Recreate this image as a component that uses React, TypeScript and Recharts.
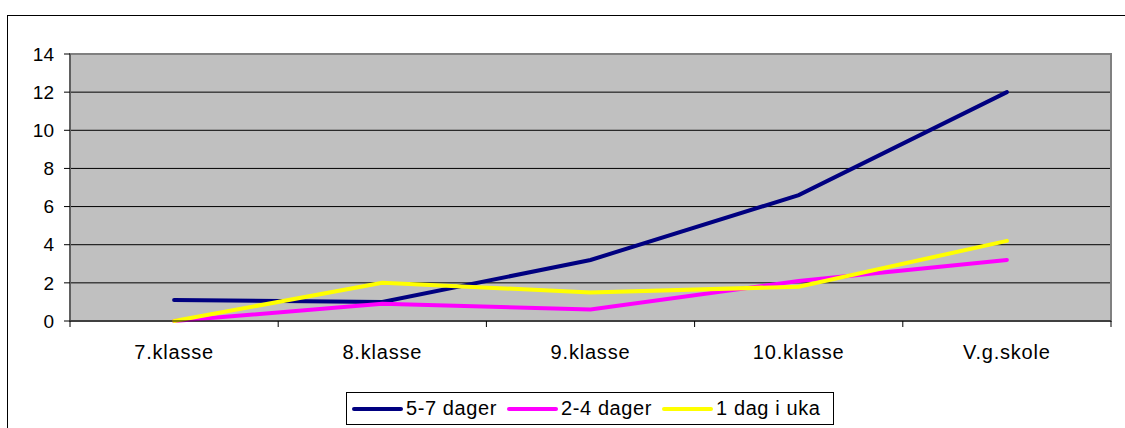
import { LineChart, Line, XAxis, YAxis, CartesianGrid, ReferenceArea } from "recharts";

const categories = ["7.klasse", "8.klasse", "9.klasse", "10.klasse", "V.g.skole"];
const dager57 = [1.1, 1.0, 3.2, 6.6, 12];
const dager24 = [0, 0.9, 0.6, 2.1, 3.2];
const dag1 = [0, 2.0, 1.5, 1.8, 4.2];
const yTicks = [0, 2, 4, 6, 8, 10, 12, 14];

const series = [
  { key: "a", name: "5-7 dager", color: "#000080", values: dager57 },
  { key: "b", name: "2-4 dager", color: "#FF00FF", values: dager24 },
  { key: "c", name: "1 dag i uka", color: "#FFFF00", values: dag1 },
];

const data = categories.map((c, i) => ({
  cat: c,
  a: dager57[i],
  b: dager24[i],
  c: dag1[i],
}));

const FONT = "'Liberation Sans', Arial, sans-serif";

// category label plus tick marks on the band boundaries
const CatTick = (props: any) => {
  const { x, y, payload, index } = props;
  const half = payload?.offset ?? 0;
  const last = index === categories.length - 1;
  return (
    <g>
      <line x1={x - half} x2={x - half} y1={y} y2={y + 6} stroke="#000" />
      {last && <line x1={x + half} x2={x + half} y1={y} y2={y + 6} stroke="#000" />}
      <text x={x} y={y + 38} textAnchor="middle" fontSize={20} letterSpacing={0.8} fontFamily={FONT} fill="#000">
        {payload.value}
      </text>
    </g>
  );
};

export default function App() {
  return (
    <div style={{ position: "absolute", left: 0, top: 0, width: 1125, height: 428, overflow: "hidden", background: "#fff" }}>
      <div style={{ position: "absolute", left: 7, top: 15, width: 1140, height: 440, border: "1px solid #000" }} />
      <div style={{ position: "absolute", left: 0, top: 0 }}>
        <LineChart width={1125} height={428} data={data} margin={{ top: 54, right: 14, left: 0, bottom: 47 }}>
          <CartesianGrid vertical={false} stroke="#000" fill="#C0C0C0" fillOpacity={1} />
          <ReferenceArea y1={0} y2={14} fill="none" stroke="#808080" strokeWidth={2} ifOverflow="visible" />
          <XAxis
            dataKey="cat"
            scale="band"
            height={60}
            tickSize={0}
            tickMargin={0}
            tickLine={false}
            axisLine={{ stroke: "#000" }}
            tick={<CatTick />}
            interval={0}
          />
          <YAxis
            domain={[0, 14]}
            ticks={yTicks}
            width={70}
            tickSize={6}
            tickMargin={10}
            axisLine={{ stroke: "#404040" }}
            tickLine={{ stroke: "#000" }}
            tick={{ fontSize: 19, fontFamily: FONT, fill: "#000" }}
          />
          {series.map((s) => (
            <Line
              key={s.key}
              type="linear"
              dataKey={s.key}
              name={s.name}
              stroke={s.color}
              strokeWidth={4}
              strokeLinecap="round"
              dot={false}
              activeDot={false}
              isAnimationActive={false}
            />
          ))}
        </LineChart>
      </div>
      <div
        style={{
          position: "absolute",
          left: 346,
          top: 392,
          width: 488,
          height: 33,
          border: "1px solid #000",
          background: "#fff",
          display: "flex",
          alignItems: "center",
          fontFamily: FONT,
          fontSize: 20,
          letterSpacing: 0.6,
          color: "#000",
          boxSizing: "border-box",
        }}
      >
        {series.map((s) => (
          <div key={s.key} style={{ display: "flex", alignItems: "center", marginLeft: 5, marginRight: 5 }}>
            <span style={{ display: "inline-block", width: 51, height: 4, borderRadius: 2, background: s.color, marginRight: 3 }} />
            <span>{s.name}</span>
          </div>
        ))}
      </div>
    </div>
  );
}
